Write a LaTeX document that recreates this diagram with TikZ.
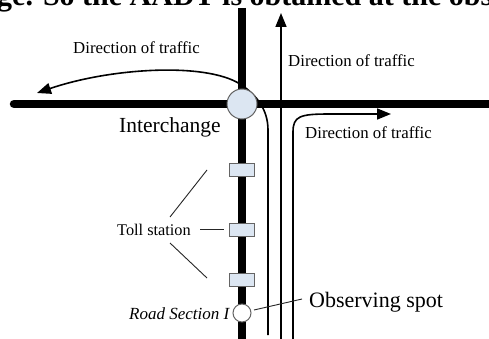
\documentclass[tikz,border=0pt]{standalone}
\usepackage{fontspec}
\setmainfont{Liberation Serif}
\usetikzlibrary{arrows.meta}
\definecolor{boothfill}{RGB}{220,230,242}
\definecolor{rim}{RGB}{100,100,100}
\begin{document}
\begin{tikzpicture}[x=1pt,y=-1pt,
  road/.style={line width=8.5pt,black},
  lane/.style={line width=1.6pt,black},
  arr/.style={-{Triangle[length=14pt,width=11pt]}},
  booth/.style={draw=rim,fill=boothfill,line width=0.8pt,minimum width=25pt,minimum height=13pt,inner sep=0pt},
  lbl/.style={font=\fontsize{16.8}{16.8}\selectfont,inner sep=0pt,anchor=base west},
  big/.style={font=\fontsize{21.5}{21.5}\selectfont,inner sep=0pt,anchor=base west},
  ptr/.style={line width=0.9pt,black!85}
]
\useasboundingbox (0,0) rectangle (489,339);
\clip (0,0) rectangle (489,339);
\fill[white] (0,0) rectangle (489,339);

% clipped line of text at the top
\node[anchor=base west,font=\bfseries\fontsize{30}{30}\selectfont,inner sep=0pt] (head) at (-3,6) {ge. So the AADT is obtained at the obs};

% roads
\coordinate (vtop) at (242,8);
\coordinate (vbot) at (242,345);
\coordinate (hleft) at (14,104);
\coordinate (hright) at (495,104);
\draw[road] (vtop) -- (vbot);
\draw[road,line cap=round] (hleft) -- (hright);

% lanes
\coordinate (l1s) at (268,335);
\coordinate (l1a) at (268,130);
\coordinate (l1b) at (240,84);
\coordinate (l1e) at (37,93);
\draw[lane,arr] (l1s) -- (l1a) .. controls (268,110) and (257,95) .. (l1b)
  .. controls (205,62) and (110,68) .. (l1e);
\coordinate (l2s) at (281,345);
\coordinate (l2e) at (281,13);
\draw[lane,arr] (l2s) -- (l2e);
\coordinate (l3s) at (293,345);
\coordinate (l3a) at (293,132);
\coordinate (l3b) at (330,114);
\coordinate (l3e) at (391,114);
\draw[lane,arr] (l3s) -- (l3a) .. controls (293,116) and (300,114) .. (l3b) -- (l3e);

% interchange and booths
\node[circle,draw=rim,fill=boothfill,minimum size=30pt,line width=1pt,inner sep=0pt] (ic) at (242,104) {};
\node[booth] (b1) at (241.5,169.5) {};
\node[booth] (b2) at (241.5,230) {};
\node[booth] (b3) at (241.5,279.5) {};
\node[circle,draw=rim,fill=white,minimum size=18pt,line width=1pt,inner sep=0pt] (obs) at (242,313) {};

% labels
\node[lbl] (d1) at (73,54) {Direction of traffic};
\node[lbl] (d2) at (288,66.5) {Direction of traffic};
\node[lbl] (d3) at (305,139) {Direction of traffic};
\node[big] (icl) at (119,133) {Interchange};
\node[lbl,font=\fontsize{16.3}{16.3}\selectfont] (toll) at (117,235) {Toll station};
\node[big,font=\fontsize{22}{22}\selectfont] (obsl) at (309,307) {Observing spot};
\node[lbl,font=\itshape\fontsize{17}{17}\selectfont] (rs) at (129,319) {Road Section I};

% pointer lines
\coordinate (p1a) at (170,217);
\coordinate (p1b) at (207,170);
\coordinate (p2a) at (200,229);
\coordinate (p2b) at (224,229);
\coordinate (p3a) at (170,243);
\coordinate (p3b) at (207,278);
\coordinate (p4a) at (254,310);
\coordinate (p4b) at (302,299);
\draw[ptr] (p1a) -- (p1b);
\draw[ptr] (p2a) -- (p2b);
\draw[ptr] (p3a) -- (p3b);
\draw[ptr] (p4a) -- (p4b);
\end{tikzpicture}
\end{document}
